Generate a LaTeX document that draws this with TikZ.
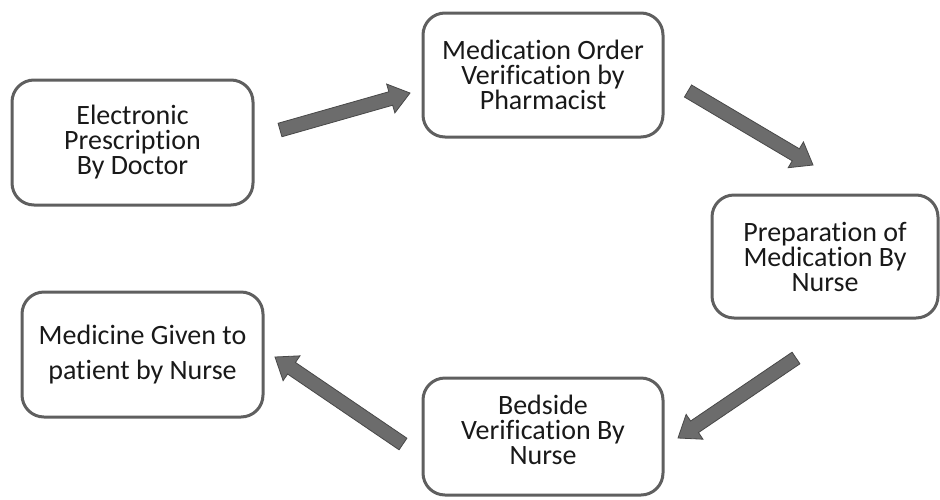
\documentclass[tikz,border=0pt]{standalone}
\usepackage{fontspec}
\setmainfont{Carlito}[Ligatures=CommonOff]
\usetikzlibrary{calc}
\definecolor{boxline}{RGB}{95,95,95}
\definecolor{arrowfill}{RGB}{108,108,108}
\definecolor{arrowline}{RGB}{72,72,72}
\definecolor{txtcol}{RGB}{25,25,25}
\tikzset{
  flowbox/.style={draw=boxline, line width=3pt, rounded corners=22pt, fill=white,
    align=center, text=txtcol, font=\fontsize{28}{25}\selectfont, inner sep=0pt},
  boxtext/.style={align=center, text=txtcol, font=\fontsize{28}{25}\selectfont, inner sep=0pt},
  fatarrow/.style={draw=arrowline, fill=arrowfill, line width=0.8pt, line join=miter}
}
\newcommand{\myfatarrow}[2]{%
  \draw[fatarrow] let \p1=(#1), \p2=(#2),
      \n1={atan2(\y2-\y1,\x2-\x1)}, \n2={veclen(\x2-\x1,\y2-\y1)}, \n3={\n2-20pt} in
    [shift={(\p1)}, rotate=\n1]
    (0pt,-7pt) -- (\n3,-7pt) -- (\n3,-15pt) -- (\n2,0pt) --
    (\n3,15pt) -- (\n3,7pt) -- (0pt,7pt) -- cycle;}
\begin{document}
\begin{tikzpicture}[x=1pt,y=-1pt]
\useasboundingbox (0,0) rectangle (940,499);
\node[flowbox, minimum width=241pt, minimum height=125pt] (b1) at (132.5,142.5)
  {Electronic\\Prescription\\By Doctor};
\node[flowbox, minimum width=240pt, minimum height=124pt] (b2) at (543,75)
  {Medication Order\\Verification by\\Pharmacist};
\node[flowbox, minimum width=226pt, minimum height=123pt] (b3) at (825,256.5)
  {Preparation of\\Medication By\\Nurse};
\node[flowbox, minimum width=240pt, minimum height=117pt] (b4) at (543,436.5) {};
\node[boxtext] (t4) at (543,429.5) {Bedside\\Verification By\\Nurse};
\node[flowbox, minimum width=241pt, minimum height=125pt, font=\fontsize{28}{35}\selectfont] (b5) at (142.5,354.5)
  {Medicine Given to\\patient by Nurse};
\coordinate (a1s) at (280,130);
\coordinate (a1e) at (410,93);
\coordinate (a2s) at (688,91);
\coordinate (a2e) at (813,165);
\coordinate (a3s) at (796,358);
\coordinate (a3e) at (678,438);
\coordinate (a4s) at (403,444);
\coordinate (a4e) at (275,357);
\myfatarrow{a1s}{a1e}
\myfatarrow{a2s}{a2e}
\myfatarrow{a3s}{a3e}
\myfatarrow{a4s}{a4e}
\end{tikzpicture}
\end{document}
